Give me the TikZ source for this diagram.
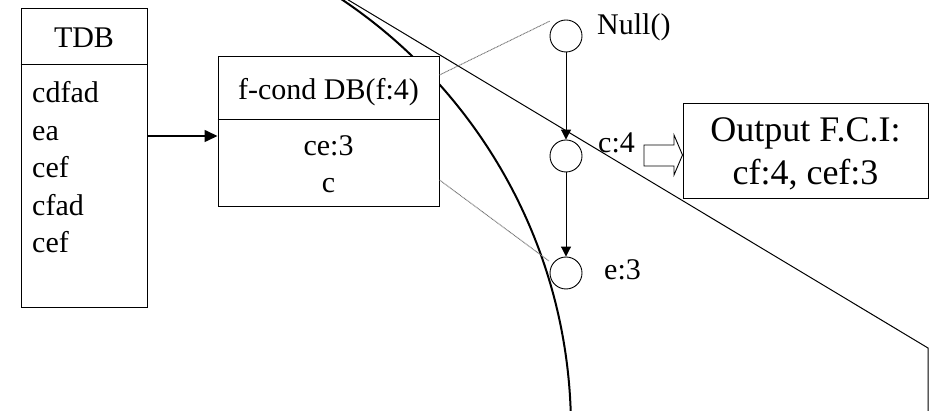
\documentclass[tikz,border=0pt]{standalone}
\usepackage{fontspec}
\setmainfont{Liberation Serif}
\usetikzlibrary{arrows.meta}
\begin{document}
\begin{tikzpicture}[x=1pt,y=-1pt,
  box/.style={draw=black,line width=1pt,fill=white,inner sep=0pt},
  txt/.style={inner sep=0pt,font=\fontsize{30pt}{36pt}\selectfont},
  bigtxt/.style={inner sep=0pt,font=\fontsize{36pt}{43pt}\selectfont},
  item/.style={circle,draw=black,line width=0.9pt,fill=white,minimum size=32pt,inner sep=0pt},
  link/.style={line width=1pt,-{Triangle[length=10pt,width=10pt]}},
  ghost/.style={black!55,line width=0.9pt,dash pattern=on 1pt off 0.6pt}]
\useasboundingbox (0,0) rectangle (932,411);

% border curves running across the picture
\begin{scope}
  \clip (0,0) rectangle (932,411);
  \draw[line width=2pt] (54,429) circle (517pt);
  \draw[line width=1pt] (340,-5) -- (928,348) -- (928,420);
\end{scope}

% transaction database
\node[box,minimum width=126pt,minimum height=299pt] (tdb) at (84,158.5) {};
\draw[line width=1pt] (tdb.west |- 0,65) -- (tdb.east |- 0,65);
\node[txt,anchor=base] (tdbh) at (84,48) {TDB};
\node[txt,anchor=base west] (t1) at (32,103) {cdfad};
\node[txt,anchor=base west] (t2) at (32,140.5) {ea};
\node[txt,anchor=base west] (t3) at (32,178) {cef};
\node[txt,anchor=base west] (t4) at (32,215.5) {cfad};
\node[txt,anchor=base west] (t5) at (32,253) {cef};

% conditional database
\node[box,minimum width=221pt,minimum height=150pt] (fcond) at (328.5,132) {};
\draw[line width=1pt] (fcond.west |- 0,120) -- (fcond.east |- 0,120);
\node[txt,anchor=base] (fh) at (328.5,100) {f-cond DB(f:4)};
\node[txt,anchor=base] (f1) at (328.5,156) {ce:3};
\node[txt,anchor=base] (f2) at (328.5,193) {c};

\draw[line width=1.6pt,-{Triangle[length=13pt,width=12pt]}] (tdb.east |- 0,136) -- (fcond.west |- 0,136);

% prefix tree
\node[item] (null) at (566,36) {};
\node[item] (c4) at (566,156) {};
\node[item] (e3) at (566,273) {};
\draw[link] (null) -- (c4);
\draw[link] (c4) -- (e3);
\node[txt,anchor=base west] (nulll) at (597,35) {Null()};
\node[txt,anchor=base west] (c4l) at (598,153) {c:4};
\node[txt,anchor=base west] (e3l) at (604,280) {e:3};

% projection guides
\coordinate (g1) at (550,21);
\coordinate (g2) at (549,261);
\draw[ghost] (fcond.east |- 0,75) -- (g1);
\draw[ghost] (fcond.east |- 0,180) -- (g2);

% output box and hollow arrow
\node[box,minimum width=245pt,minimum height=95pt] (out) at (805.5,151.5) {};
\node[bigtxt,anchor=base] (o1) at (805.5,142) {Output F.C.I:};
\node[bigtxt,anchor=base] (o2) at (805.5,185) {cf:4, cef:3};
\draw[line width=0.9pt,fill=white] (644,145) -- (674,145) -- (674,135) -- (out.west |- 0,155) -- (674,175) -- (674,166) -- (644,166) -- cycle;
\end{tikzpicture}
\end{document}
